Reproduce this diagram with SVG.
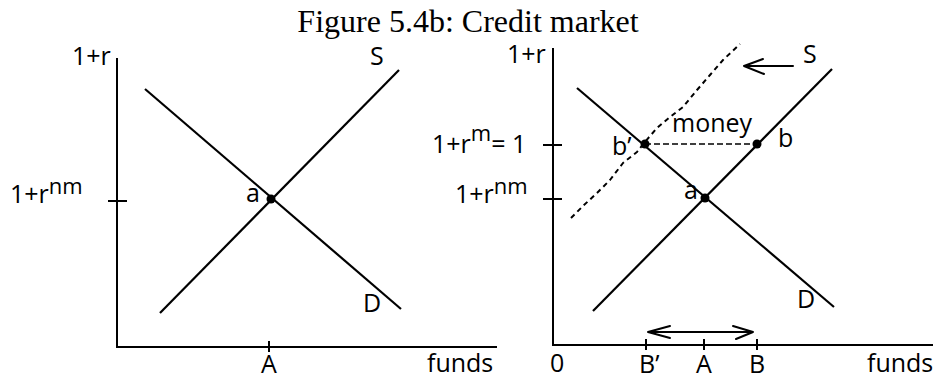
<svg xmlns="http://www.w3.org/2000/svg" width="937" height="379" viewBox="0 0 937 379">
<style>
.t{font-family:"Open Sans","DejaVu Sans",sans-serif;font-size:25px;fill:#000}
.sup{font-size:22px}
.title{font-family:"Liberation Serif","Times New Roman",serif;font-size:32px;fill:#000}
.ln{stroke:#000;stroke-width:2.2;fill:none;stroke-linecap:butt}
.ax{stroke:#000;stroke-width:2;fill:none}
.dash{stroke:#000;stroke-width:1.6;fill:none;stroke-dasharray:6 3}
.wave{stroke:#000;stroke-width:2;fill:none;stroke-dasharray:5 4;stroke-linejoin:round}
.arr{stroke:#000;stroke-width:2;fill:none;stroke-linecap:round;stroke-linejoin:round}
</style>
<rect width="937" height="379" fill="#fff"/>
<text id="title" class="title" x="468" y="32" text-anchor="middle">Figure 5.4b: Credit market</text>

<g id="left-panel">
  <g id="left-axes">
    <path class="ax" d="M117,58 V347 H497"/>
    <path class="ax" d="M108,201 H127 M269,341 V352"/>
  </g>
  <g id="left-curves">
    <line id="left-D" class="ln" x1="145" y1="89" x2="401" y2="309"/>
    <line id="left-S" class="ln" x1="160" y1="313" x2="399" y2="70"/>
    <circle id="left-a" cx="271" cy="199" r="4.5" fill="#000"/>
  </g>
  <g id="left-labels">
    <text class="t" x="72" y="65">1+r</text>
    <text class="t" x="370" y="65">S</text>
    <text class="t" x="10" y="203">1+r<tspan class="sup" dy="-9">nm</tspan></text>
    <text class="t" x="246" y="202">a</text>
    <text class="t" x="363" y="312">D</text>
    <text class="t" x="269" y="373" text-anchor="middle">A</text>
    <text class="t" x="427" y="372">funds</text>
  </g>
</g>

<g id="right-panel">
  <g id="right-axes">
    <path class="ax" d="M553,48 V345 H933"/>
    <path class="ax" d="M543,145 H562 M543,199 H562 M646,339 V350 M704,339 V350 M757,339 V350"/>
  </g>
  <g id="connectors">
    <line id="right-D" class="ln" x1="577" y1="88" x2="834" y2="307"/>
    <line id="right-S" class="ln" x1="593" y1="311" x2="832" y2="69"/>
    <polyline id="money-S" class="wave" points="571,218 584,205 597,193 610,180 623,163 637,152 644,143 657,128 670,117 683,107 697,90 710,75 723,60 740,44"/>
    <line id="b-to-bprime" class="dash" x1="645" y1="144" x2="757" y2="144"/>
    <path id="shift-arrow" class="arr" d="M793,66 H744 M763,59 L744,66 L764,74"/>
    <path id="range-arrow" class="arr" d="M648,332 H753 M670,326 L648,332 L670,338 M733,326 L753,332 L736,339"/>
  </g>
  <g id="points">
    <circle id="pt-a" cx="705" cy="198" r="4.5" fill="#000"/>
    <circle id="pt-b" cx="757" cy="144" r="4.5" fill="#000"/>
    <circle id="pt-bprime" cx="645" cy="144" r="4.5" fill="#000"/>
  </g>
  <g id="right-labels">
    <text class="t" x="507" y="63">1+r</text>
    <text class="t" x="803" y="63">S</text>
    <text class="t" x="432" y="153">1+r<tspan class="sup" dy="-12">m</tspan><tspan dy="12">= 1</tspan></text>
    <text class="t" x="455" y="203">1+r<tspan class="sup" dy="-9">nm</tspan></text>
    <text class="t" x="672" y="132">money</text>
    <text class="t" x="612" y="155">b’</text>
    <text class="t" x="778" y="147">b</text>
    <text class="t" x="684" y="199">a</text>
    <text class="t" x="797" y="308">D</text>
    <text class="t" x="550" y="372">0</text>
    <text class="t" x="639" y="373">B’</text>
    <text class="t" x="704" y="373" text-anchor="middle">A</text>
    <text class="t" x="757" y="373" text-anchor="middle">B</text>
    <text class="t" x="867" y="372">funds</text>
  </g>
</g>
</svg>
